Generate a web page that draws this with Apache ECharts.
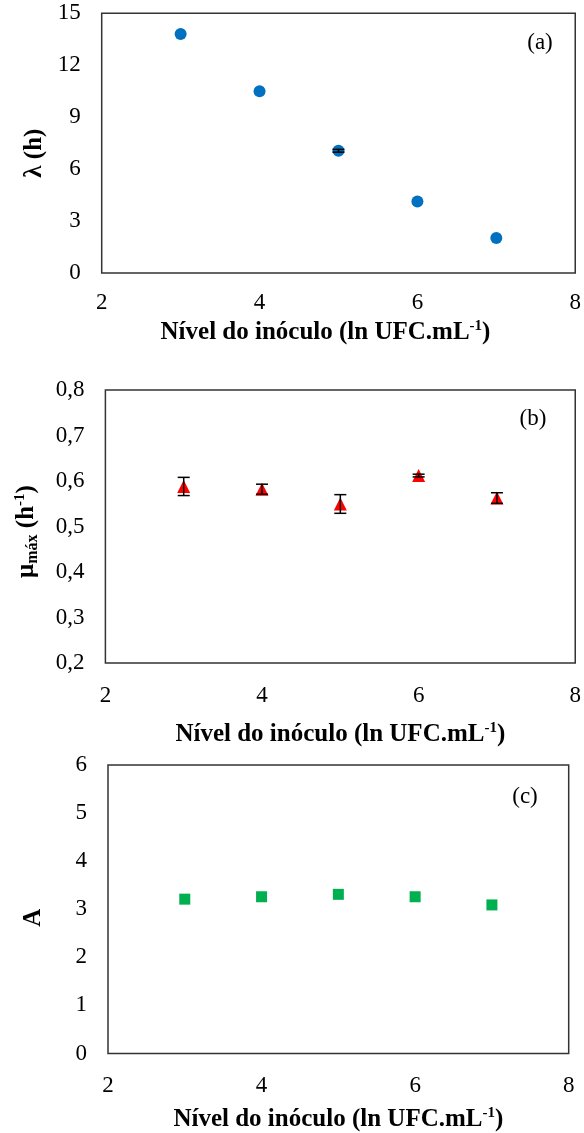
<!DOCTYPE html>
<html>
<head>
<meta charset="utf-8">
<script src="https://cdn.jsdelivr.net/npm/echarts@6/dist/echarts.min.js"></script>
<style>
  html, body { margin: 0; padding: 0; background: #fff; }
  #chart { width: 584px; height: 1133px; }
</style>
</head>
<body>
<div id="chart"></div>
<script>
// Inoculum levels (ln CFU/mL)
const inoculumLevels = [3, 4, 5, 6, 7];
// (a) lag time λ (h)
const lagTime = [13.8, 10.5, 7.06, 4.13, 2.02];
const lagTimeErr = [0, 0, 0.08, 0, 0];
// (b) maximum growth rate μmáx (h-1)
const muMax = [0.588, 0.582, 0.5495, 0.612, 0.5625];
const muMaxErr = [0.020, 0.011, 0.0205, 0.003, 0.0117];
// (c) asymptote A
const asymptote = [3.21, 3.26, 3.31, 3.26, 3.09];
const asymptoteErr = [0, 0, 0, 0, 0];

const FONT = '"Liberation Serif", "Times New Roman", serif';

function pairs(xs, ys) { return xs.map((x, i) => [x, ys[i]]); }
function errTriples(xs, ys, es) { return xs.map((x, i) => [x, ys[i], es[i]]); }

const chart = echarts.init(document.getElementById('chart'), null, { renderer: 'canvas' });

const grids = [
  { left: 101.7, right: 6, top: 13.3, height: 259.7 },
  { left: 105.4, right: 5.6, top: 390, height: 273 },
  { left: 108, right: 15.3, top: 765, height: 289 }
].map(g => Object.assign({ show: true, borderColor: '#333', borderWidth: 1.5, backgroundColor: 'transparent' }, g));

const richTitle = {
  b: { fontFamily: FONT, fontWeight: 'bold', fontSize: 25, color: '#000', lineHeight: 28, verticalAlign: 'middle' },
  sup: { fontFamily: FONT, fontWeight: 'bold', fontSize: 15, color: '#000', lineHeight: 28, verticalAlign: 'top' },
  sub: { fontFamily: FONT, fontWeight: 'bold', fontSize: 16, color: '#000', lineHeight: 28, verticalAlign: 'bottom' }
};
const xTitle = '{b|Nível do inóculo (ln UFC.mL}{sup|-1}{b|)}';

function xAxis(gridIndex, gap, margin, pad) {
  return {
    type: 'value', gridIndex, min: 2, max: 8, interval: 2,
    axisLine: { show: false }, axisTick: { show: false }, splitLine: { show: false },
    axisLabel: { fontFamily: FONT, fontSize: 23, color: '#000', margin },
    name: xTitle, nameLocation: 'middle', nameGap: gap,
    nameTextStyle: { rich: richTitle, padding: pad || 0 }
  };
}
function yAxis(gridIndex, min, max, interval, name, gap, fmt, pad) {
  return {
    type: 'value', gridIndex, min, max, interval,
    axisLine: { show: false }, axisTick: { show: false }, splitLine: { show: false },
    axisLabel: { fontFamily: FONT, fontSize: 23, color: '#000', margin: 21, formatter: fmt },
    name, nameLocation: 'middle', nameGap: gap,
    nameTextStyle: { rich: richTitle, padding: pad || 0 }
  };
}

// Vertical error bars with caps
function errorBarSeries(idx, data) {
  return {
    type: 'custom', xAxisIndex: idx, yAxisIndex: idx, z: 5, silent: true,
    data,
    renderItem: function (params, api) {
      const x = api.value(0), y = api.value(1), e = api.value(2);
      if (!e) return null;
      const lo = api.coord([x, y - e]);
      const hi = api.coord([x, y + e]);
      const hw = 6;
      const style = { stroke: '#000', lineWidth: 1.5 };
      return {
        type: 'group',
        children: [
          { type: 'line', shape: { x1: lo[0], y1: lo[1], x2: hi[0], y2: hi[1] }, style },
          { type: 'line', shape: { x1: lo[0] - hw, y1: lo[1], x2: lo[0] + hw, y2: lo[1] }, style },
          { type: 'line', shape: { x1: hi[0] - hw, y1: hi[1], x2: hi[0] + hw, y2: hi[1] }, style }
        ]
      };
    }
  };
}

const panelLabel = (text, x, y) => ({
  type: 'text', x, y,
  style: { text, fontFamily: FONT, fontSize: 23, fill: '#000', align: 'center', verticalAlign: 'middle' }
});

chart.setOption({
  animation: false,
  backgroundColor: '#fff',
  grid: grids,
  xAxis: [xAxis(0, 46, 18, [0, 26, 0, 0]), xAxis(1, 58, 21), xAxis(2, 52, 21)],
  yAxis: [
    yAxis(0, 0, 15, 3, '{b|λ (h)}', 51, v => String(v), [0, 20, 0, 0]),
    yAxis(1, 0.2, 0.8, 0.1, '{b|μ}{sub|máx}{b| (h}{sup|-1}{b|)}', 65, v => v.toFixed(1).replace('.', ','), [0, 10, 0, 0]),
    yAxis(2, 0, 6, 1, '{b|A}', 60, v => String(v), [0, 17, 0, 0])
  ],
  graphic: [
    panelLabel('(a)', 540, 43),
    panelLabel('(b)', 533, 419),
    panelLabel('(c)', 525, 797)
  ],
  series: [
    {
      type: 'scatter', xAxisIndex: 0, yAxisIndex: 0, z: 3,
      symbol: 'circle', symbolSize: 12,
      itemStyle: { color: '#0070C0', opacity: 1 },
      data: pairs(inoculumLevels, lagTime)
    },
    errorBarSeries(0, errTriples(inoculumLevels, lagTime, lagTimeErr)),
    {
      type: 'scatter', xAxisIndex: 1, yAxisIndex: 1, z: 3,
      symbol: 'triangle', symbolSize: [13, 13],
      itemStyle: { color: '#FF0000', opacity: 1 },
      data: pairs(inoculumLevels, muMax)
    },
    errorBarSeries(1, errTriples(inoculumLevels, muMax, muMaxErr)),
    {
      type: 'scatter', xAxisIndex: 2, yAxisIndex: 2, z: 3,
      symbol: 'rect', symbolSize: 11,
      itemStyle: { color: '#00B050', opacity: 1 },
      data: pairs(inoculumLevels, asymptote)
    },
    errorBarSeries(2, errTriples(inoculumLevels, asymptote, asymptoteErr))
  ]
});
</script>
</body>
</html>
